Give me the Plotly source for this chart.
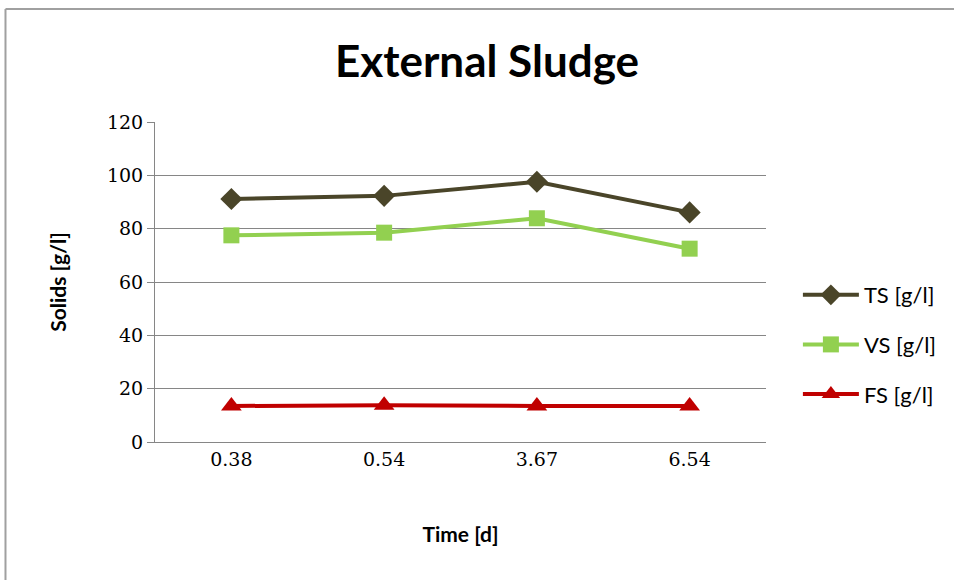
import plotly.graph_objects as go

categories = ["0.38", "0.54", "3.67", "6.54"]
ts_values = [91.1, 92.3, 97.6, 86.1]
vs_values = [77.5, 78.5, 83.9, 72.5]
fs_values = [13.5, 13.8, 13.5, 13.5]
y_ticks = [0, 20, 40, 60, 80, 100, 120]

W, H = 954, 580
L, R, T, B = 155, 186, 122, 138
pw, ph = W - L - R, H - T - B

def px_x(x):
    return (x - L) / pw

def px_y(y):
    return (H - B - y) / ph

fig = go.Figure()
series = [
    ("TS [g/l]", ts_values, "#4a4529", "diamond", 17),
    ("VS [g/l]", vs_values, "#92d050", "square", 16),
    ("FS [g/l]", fs_values, "#c00000", "triangle-up", 18),
]
for name, vals, color, sym, size in series:
    fig.add_trace(go.Scatter(
        x=categories, y=vals, name=name, mode="lines+markers",
        line=dict(color=color, width=4),
        marker=dict(symbol=sym, size=size, color=color),
        legendgroup=name,
    ))

fig.update_layout(
    width=W, height=H,
    margin=dict(l=L, r=R, t=T, b=B),
    paper_bgcolor="white", plot_bgcolor="white",
    title=dict(text="<b>External Sludge</b>", x=487 / W, xanchor="center",
               y=1 - 62 / H, yanchor="middle",
               font=dict(family="Lato", size=44, color="black")),
    xaxis=dict(type="category", showgrid=False, showline=True,
               linecolor="#868686", linewidth=1, ticks="",
               tickfont=dict(family="DejaVu Serif", size=19, color="black"),
               title=dict(text="<b>Time [d]</b>", standoff=58,
                          font=dict(family="Lato", size=21, color="black")),
               range=[-0.5, 3.5]),
    yaxis=dict(range=[0, 120], tickvals=y_ticks, showgrid=True,
               gridcolor="#868686", gridwidth=1, showline=True,
               linecolor="#868686", linewidth=1, ticks="outside",
               ticklen=7, tickcolor="#868686", zeroline=False,
               tickfont=dict(family="DejaVu Serif", size=19, color="black"),
               title=dict(text="<b>Solids [g/l]</b>", standoff=34,
                          font=dict(family="Lato", size=21, color="black"))),
    legend=dict(x=px_x(800), y=px_y(274), xanchor="left", yanchor="top",
                font=dict(family="Lato", size=22, color="black"),
                tracegroupgap=18, itemwidth=56, bgcolor="rgba(0,0,0,0)"),
    shapes=[
        dict(type="line", xref="paper", yref="paper",
             x0=px_x(5), x1=px_x(960), y0=px_y(9), y1=px_y(9),
             line=dict(color="#a0a0a0", width=2)),
        dict(type="line", xref="paper", yref="paper",
             x0=px_x(5), x1=px_x(5), y0=px_y(9), y1=px_y(590),
             line=dict(color="#a0a0a0", width=2)),
    ],
)

fig.write_html("out.html")
